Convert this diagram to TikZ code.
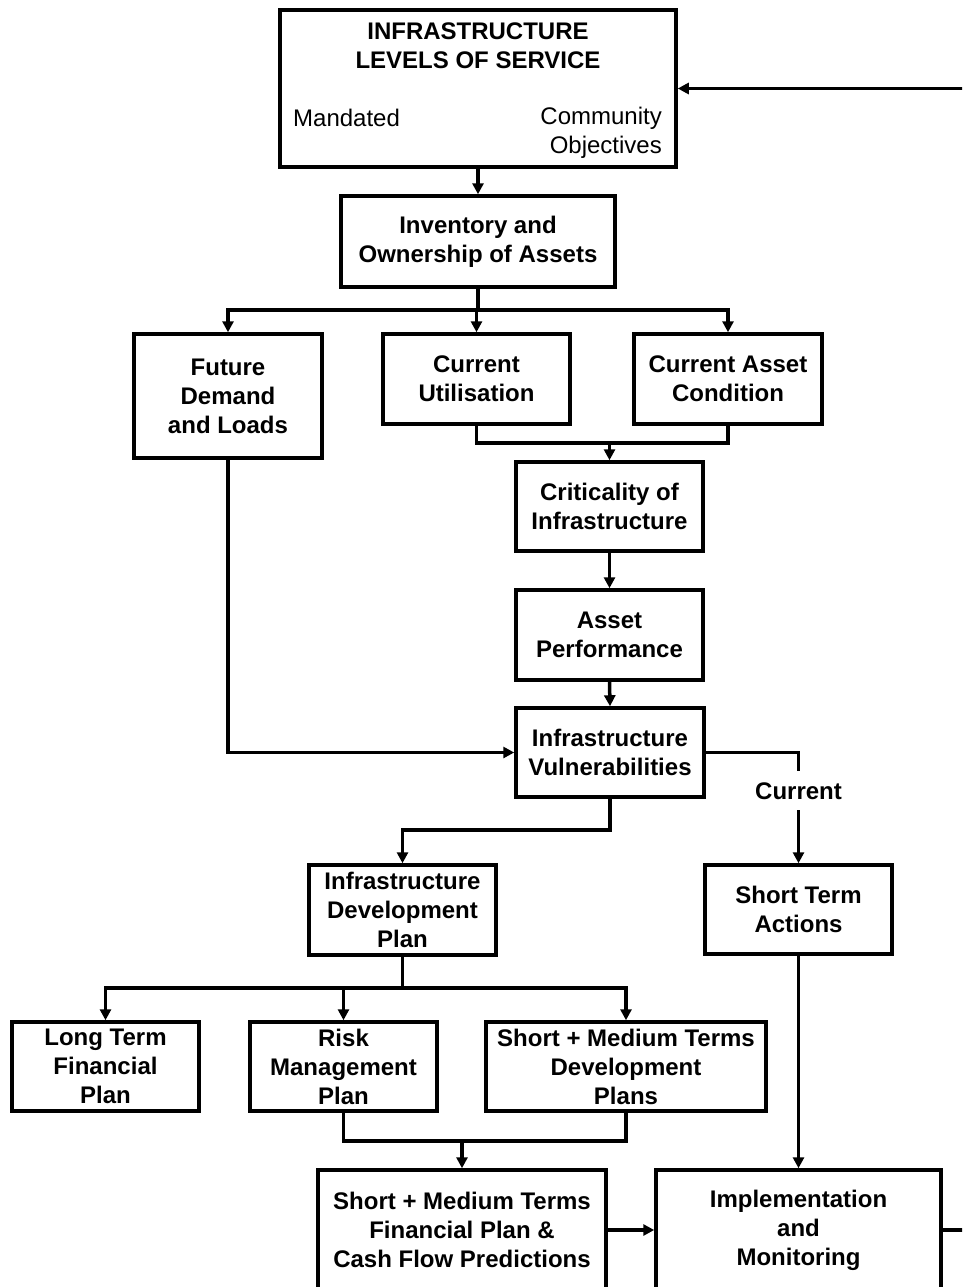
\documentclass[tikz,border=0pt]{standalone}
\usepackage{fontspec}
\setmainfont{Liberation Sans}
\usetikzlibrary{arrows.meta}
\begin{document}
\begin{tikzpicture}[x=1pt,y=-1pt,
  font={\fontsize{24}{29}\selectfont\bfseries},
  box/.style={draw, line width=3.5pt, align=center, inner sep=0pt},
  ln/.style={line width=3.5pt},
  arr/.style={line width=3.5pt, -{Triangle[length=11pt,width=11pt]}},
  lbl/.style={inner sep=0pt, align=center}]
\clip (0,0) rectangle (962,1287);
\fill[white] (0,0) rectangle (962,1287);
% top box
\node[box, minimum width=396pt, minimum height=157pt] (los) at (478,88.5) {};
\node[lbl] (title) at (478,46) {INFRASTRUCTURE\\LEVELS OF SERVICE};
\node[lbl, anchor=west, font={\fontsize{24}{29}\selectfont\mdseries}] (mand) at (293,118) {Mandated};
\node[lbl, anchor=east, align=right, font={\fontsize{24}{29}\selectfont\mdseries}] (comm) at (662,132.5) {Community\\Objectives};
% boxes
\node[box, minimum width=274pt, minimum height=91pt] (inv) at (478,241.5) {Inventory and\\Ownership of Assets};
\node[box, minimum width=188pt, minimum height=124pt] (fut) at (228,396) {Future\\Demand\\and Loads};
\node[box, minimum width=187pt, minimum height=90pt] (util) at (476.5,379) {Current\\Utilisation};
\node[box, minimum width=188pt, minimum height=90pt] (cond) at (728,379) {Current Asset\\Condition};
\node[box, minimum width=187pt, minimum height=89pt] (crit) at (609.5,506.5) {Criticality of\\Infrastructure};
\node[box, minimum width=187pt, minimum height=90pt] (perf) at (609.5,635) {Asset\\Performance};
\node[box, minimum width=188pt, minimum height=89pt] (vul) at (610,752.5) {Infrastructure\\Vulnerabilities};
\node[box, minimum width=187pt, minimum height=90pt] (idp) at (402.5,910) {Infrastructure\\Development\\Plan};
\node[box, minimum width=187pt, minimum height=89pt] (sta) at (798.5,909.5) {Short Term\\Actions};
\node[box, minimum width=187pt, minimum height=89pt] (ltf) at (105.5,1066.5) {Long Term\\Financial\\Plan};
\node[box, minimum width=187pt, minimum height=89pt] (risk) at (343.5,1066.5) {Risk\\Management\\Plan};
\node[box, minimum width=280pt, minimum height=89pt] (smd) at (626,1066.5) {Short + Medium Terms\\Development\\Plans};
\node[box, minimum width=288pt, minimum height=120pt] (smf) at (462,1230) {Short + Medium Terms\\Financial Plan \&\\Cash Flow Predictions};
\node[box, minimum width=285pt, minimum height=120pt] (impl) at (798.5,1230) {Implementation\\and\\Monitoring};
% connectors
\draw[arr] (los.south) -- (inv.north);
\coordinate (j1) at (478,310);
\draw[ln] (inv.south) -- (j1);
\draw[arr] (j1) -| (fut.north);
\draw[arr] (j1) -| (cond.north);
\draw[arr] (j1) -| (util.north);
\coordinate (m1) at (609.5,443);
\draw[ln] (util.south) |- (m1) -| (cond.south);
\draw[arr] (m1) -- (crit.north);
\draw[arr] (crit.south) -- (perf.north);
\draw[arr] (perf.south) -- (vul.north);
\draw[arr] (fut.south) |- (vul.west);
\coordinate (c1) at (798.5,771);
\coordinate (c2) at (798.5,810);
\draw[ln] (vul.east) -| (c1);
\node[lbl] (cur) at (798.5,791) {Current};
\draw[arr] (c2) -- (sta.north);
\coordinate (k1) at (610,830);
\draw[arr] (vul.south) -- (k1) -| (idp.north);
\coordinate (j2) at (402.5,988);
\draw[ln] (idp.south) -- (j2);
\draw[arr] (j2) -| (ltf.north);
\draw[arr] (j2) -| (risk.north);
\draw[arr] (j2) -| (smd.north);
\coordinate (m3) at (462,1141);
\draw[ln] (risk.south) |- (m3) -| (smd.south);
\draw[arr] (m3) -- (smf.north);
\draw[arr] (sta.south) -- (impl.north);
\draw[arr] (smf.east) -- (impl.west);
\draw[arr] (impl.east) -- ++(40,0) |- (los.east);
\end{tikzpicture}
\end{document}
